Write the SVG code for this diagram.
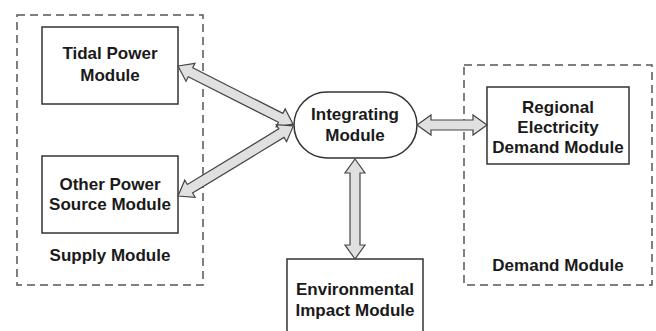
<svg xmlns="http://www.w3.org/2000/svg" width="656" height="331" viewBox="0 0 656 331">
<style>
.grp{fill:none;stroke:#555;stroke-width:1.5;stroke-dasharray:8 5}
.box{fill:#fff;stroke:#333;stroke-width:1.5}
.arr{fill:#e0e0e0;stroke:#444;stroke-width:1.2;stroke-linejoin:miter}
text{font-family:"Liberation Sans",Arial,sans-serif;font-weight:bold;font-size:17px;fill:#1a1a1a;text-anchor:middle}
</style>
<rect width="656" height="331" fill="#fff"/>
<g id="supply">
<rect class="grp" x="17" y="15" width="186" height="270"/>
<text x="110" y="261">Supply Module</text>
</g>
<g id="demand">
<rect class="grp" x="464" y="65" width="188" height="220"/>
<text x="558" y="271">Demand Module</text>
</g>
<g id="tidal">
<rect class="box" x="42" y="27" width="136" height="77"/>
<text x="110" y="59">Tidal Power</text>
<text x="110" y="81">Module</text>
</g>
<g id="other">
<rect class="box" x="42" y="156" width="136" height="77"/>
<text x="110" y="190">Other Power</text>
<text x="110" y="210">Source Module</text>
</g>
<g id="integrating">
<rect class="box" x="294" y="92" width="123" height="66" rx="33" ry="33"/>
<text x="355" y="120">Integrating</text>
<text x="355" y="141">Module</text>
</g>
<g id="regional">
<rect class="box" x="487" y="87" width="142" height="77"/>
<text x="558" y="113">Regional</text>
<text x="558" y="133">Electricity</text>
<text x="558" y="153">Demand Module</text>
</g>
<g id="environmental">
<rect class="box" x="287" y="259" width="136" height="80"/>
<text x="355" y="295">Environmental</text>
<text x="355" y="316">Impact Module</text>
</g>
<g id="connectors">
<polygon class="arr" transform="translate(178,66) rotate(26.8)" points="0,0 14,-10 14,-5 115,-5 115,-10 129,0 115,10 115,5 14,5 14,10"/>
<polygon class="arr" transform="translate(178,196) rotate(-31.3)" points="0,0 14,-10 14,-5 121,-5 121,-10 135,0 121,10 121,5 14,5 14,10"/>
<polygon class="arr" points="417,125 431,115 431,120 473,120 473,115 487,125 473,135 473,130 431,130 431,135"/>
<polygon class="arr" points="355,159 365,173 360,173 360,245 365,245 355,259 345,245 350,245 350,173 345,173"/>
</g>
</svg>
